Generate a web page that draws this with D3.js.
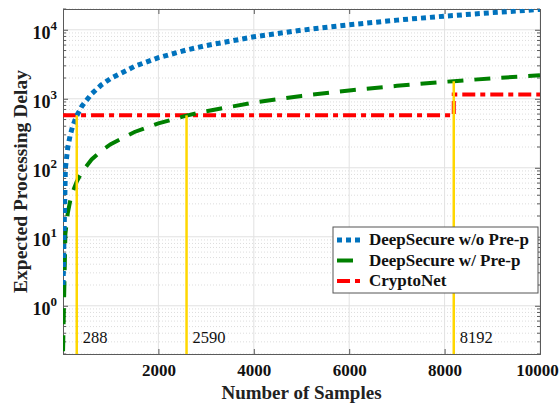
<!DOCTYPE html>
<html>
<head>
<meta charset="utf-8">
<script src="https://cdn.jsdelivr.net/npm/d3@7"></script>
<style>
  body { margin: 0; background: #fff; }
  svg text { font-family: "Liberation Serif", "Times New Roman", serif; }
</style>
</head>
<body>
<div id="chart"></div>
<script>
// values
var samples   = [1, 50, 100, 150, 200, 288, 400, 600, 800, 1000, 1500, 2000, 2590, 3000, 4000, 5000, 6000, 7000, 8000, 8192, 9000, 10000];
var noPrep    = [2, 98, 197, 295, 394, 567, 788, 1180, 1580, 1970, 2950, 3940, 5100, 5900, 7900, 9850, 11800, 13800, 15750, 16100, 17700, 19700];
var withPrep  = [0.22, 11, 22, 33, 44, 63, 88, 132, 176, 220, 330, 440, 570, 660, 880, 1100, 1320, 1540, 1760, 1800, 1980, 2200];
var cryptoX   = [1, 8192, 8192, 10000];
var cryptoY   = [575, 575, 1150, 1150];
var marks     = [288, 2590, 8192];
var markTop   = [575, 575, 1800];
var xTicks    = [2000, 4000, 6000, 8000, 10000];
var yTicks    = [1, 10, 100, 1000, 10000];

var W = 560, H = 405;
var m = {left: 63, right: 20, top: 9, bottom: 51};
var pw = W - m.left - m.right, ph = H - m.top - m.bottom;

var svg = d3.select("#chart").append("svg").attr("width", W).attr("height", H);

var x = d3.scaleLinear().domain([0, 10000]).range([0, pw]);
var y = d3.scaleLog().domain([0.2, 20000]).range([ph, 0]);

svg.append("defs").append("clipPath").attr("id", "clip")
  .append("rect").attr("width", pw).attr("height", ph);

var g = svg.append("g").attr("transform", "translate(" + m.left + "," + m.top + ")");

// minor grid (dotted)
var minor = [];
[0.1, 1, 10, 100, 1000, 10000].forEach(function(d) {
  for (var k = 2; k <= 9; k++) {
    var v = d * k;
    if (v >= 0.2 && v <= 20000) minor.push(v);
  }
});
g.append("g").selectAll("line").data(minor).enter().append("line")
  .attr("x1", 0).attr("x2", pw)
  .attr("y1", d => y(d)).attr("y2", d => y(d))
  .style("stroke", "#d4d4d4").style("stroke-width", 0.8).style("stroke-dasharray", "1,2");

// major grid
g.append("g").selectAll("line").data(yTicks).enter().append("line")
  .attr("x1", 0).attr("x2", pw)
  .attr("y1", d => y(d)).attr("y2", d => y(d))
  .style("stroke", "#e2e2e2").style("stroke-width", 1);
g.append("g").selectAll("line").data(xTicks).enter().append("line")
  .attr("y1", 0).attr("y2", ph)
  .attr("x1", d => x(d)).attr("x2", d => x(d))
  .style("stroke", "#e2e2e2").style("stroke-width", 1);

// axes, ticks pointing inward
var axisColor = "#5a5a5a";
var axBottom = g.append("g").attr("transform", "translate(0," + ph + ")")
  .call(d3.axisBottom(x).tickValues(xTicks).tickSize(-5).tickPadding(10).tickFormat(d3.format("d")));
var axTop = g.append("g")
  .call(d3.axisTop(x).tickValues(xTicks).tickSize(-5).tickFormat(""));
var axLeft = g.append("g")
  .call(d3.axisLeft(y).tickValues(yTicks).tickSize(-5).tickFormat(""));
var axRight = g.append("g").attr("transform", "translate(" + pw + ",0)")
  .call(d3.axisRight(y).tickValues(yTicks).tickSize(-5).tickFormat(""));
[axLeft, axRight].forEach(function(a) {
  a.selectAll(".minor").data(minor).enter().append("line")
    .attr("class", "minor")
    .attr("x1", 0).attr("x2", a === axLeft ? 3 : -3)
    .attr("y1", d => y(d)).attr("y2", d => y(d))
    .style("stroke", axisColor);
});
[axBottom, axTop, axLeft, axRight].forEach(function(a) {
  a.select(".domain").style("stroke", axisColor);
  a.selectAll(".tick line").style("stroke", axisColor);
});
axBottom.selectAll("text")
  .attr("dx", d => d === 10000 ? -3 : 0)
  .style("font-size", "17px").style("font-weight", "bold").style("fill", "#111")
  .style("font-family", "'Liberation Serif', serif");

// y tick labels as 10^n
var yl = g.append("g").selectAll("text").data(yTicks).enter().append("text")
  .attr("x", -6).attr("y", d => y(d) + 9)
  .attr("text-anchor", "end")
  .style("font-size", "18px").style("font-weight", "bold").style("fill", "#111");
yl.append("tspan").text("10");
yl.append("tspan").attr("dy", -9).style("font-size", "13px").text(d => Math.round(Math.log10(d)));

// data
var plot = g.append("g").attr("clip-path", "url(#clip)");
var line = d3.line().x(d => x(d[0])).y(d => y(d[1]));

plot.append("path").datum(cryptoX.map((d, i) => [d, cryptoY[i]]))
  .attr("d", line).style("fill", "none")
  .style("stroke", "#ff0000").style("stroke-width", 4)
  .style("stroke-dasharray", "13,5,5,5");

plot.append("path").datum(samples.map((d, i) => [d, withPrep[i]]))
  .attr("d", line).style("fill", "none")
  .style("stroke", "#008000").style("stroke-width", 4)
  .style("stroke-dasharray", "16,11");

plot.append("path").datum(samples.map((d, i) => [d, noPrep[i]]))
  .attr("d", line).style("fill", "none")
  .style("stroke", "#0072bd").style("stroke-width", 5)
  .style("stroke-dasharray", "5,4");

plot.selectAll(".mark").data(marks).enter().append("line")
  .attr("class", "mark")
  .attr("x1", d => x(d)).attr("x2", d => x(d))
  .attr("y1", ph).attr("y2", (d, i) => y(markTop[i]))
  .style("stroke", "#ffd700").style("stroke-width", 2.5);

g.selectAll(".marklabel").data(marks).enter().append("text")
  .attr("x", d => x(d) + 6).attr("y", ph - 11)
  .style("font-size", "16.5px").style("fill", "#111")
  .text(d => d);

// axis titles
svg.append("text")
  .attr("x", m.left + pw / 2).attr("y", 399)
  .attr("text-anchor", "middle")
  .style("font-size", "19px").style("font-weight", "bold").style("fill", "#222")
  .text("Number of Samples");
svg.append("text")
  .attr("transform", "translate(27," + (m.top + ph / 2) + ") rotate(-90)")
  .attr("text-anchor", "middle")
  .style("font-size", "19.5px").style("font-weight", "bold").style("fill", "#222")
  .text("Expected Processing Delay");

// legend
var legendNames = ["DeepSecure w/o Pre-p", "DeepSecure w/ Pre-p", "CryptoNet"];
var legendColors = ["#0072bd", "#008000", "#ff0000"];
var legendDash = ["5,4", "16,11", "13,5,5,5"];
var legendWidth = [5, 4, 4];
var lg = svg.append("g").attr("transform", "translate(333,227)");
lg.append("rect").attr("width", 205).attr("height", 66)
  .style("fill", "#fff").style("stroke", "#555").style("stroke-width", 1);
legendNames.forEach(function(name, i) {
  var yy = 13 + i * 20.5;
  lg.append("line").attr("x1", 4).attr("x2", i === 1 ? 20 : 30)
    .attr("y1", yy).attr("y2", yy)
    .style("stroke", legendColors[i]).style("stroke-width", legendWidth[i])
    .style("stroke-dasharray", legendDash[i]);
  lg.append("text").attr("x", 36).attr("y", yy + 5)
    .style("font-size", "17px").style("font-weight", "bold").style("fill", "#111")
    .text(name);
});
</script>
</body>
</html>
